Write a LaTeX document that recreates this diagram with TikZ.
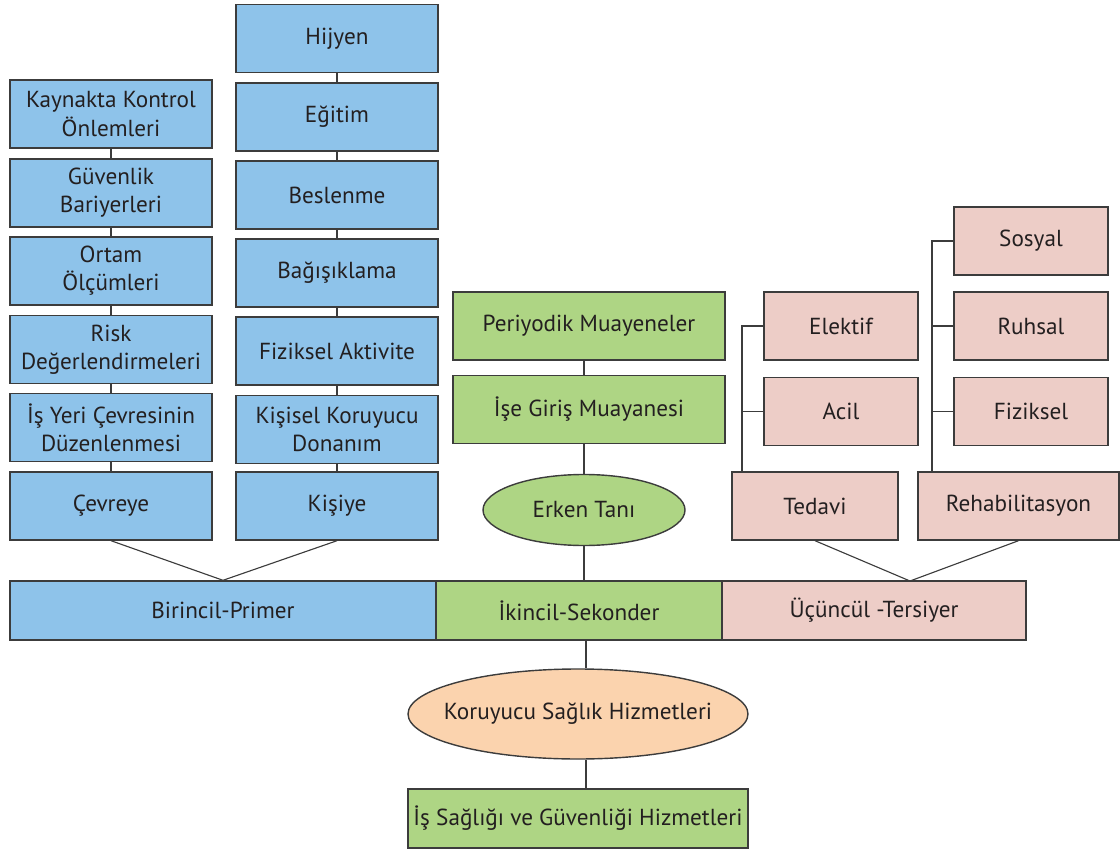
\documentclass[tikz,border=0pt]{standalone}
\usepackage{fontspec}
\setmainfont{PT Sans}
\usetikzlibrary{shapes.geometric}

\definecolor{mavikutu}{RGB}{142,195,234}
\definecolor{yesilkutu}{RGB}{174,213,132}
\definecolor{pembekutu}{RGB}{237,205,199}
\definecolor{turuncu}{RGB}{251,211,174}
\definecolor{cizgi}{RGB}{60,60,60}
\definecolor{yazi}{RGB}{35,31,32}

\begin{document}
\begin{tikzpicture}[font=\fontsize{16.5}{20}\selectfont, text=yazi]

    % stiller
    \tikzstyle{kutu}=[rectangle, draw=cizgi, line width=1pt, minimum height=1.7cm, align=center, inner sep=0pt]
    \tikzstyle{mavi}=[kutu, fill=mavikutu, minimum width=5.05cm]
    \tikzstyle{yesil}=[kutu, fill=yesilkutu, minimum width=6.8cm]
    \tikzstyle{pembe}=[kutu, fill=pembekutu, minimum width=3.85cm]
    \tikzstyle{bant}=[kutu, minimum height=1.475cm]
    \tikzstyle{elips}=[ellipse, draw=cizgi, line width=1pt, inner sep=0pt]
    \tikzstyle{bag}=[draw=cizgi, line width=0.8pt]

    \useasboundingbox (0,0) rectangle (28,-21.225);

    %======================= BIRINCIL =======================
    % cevreye yonelik
    \node[mavi] (kaynak)  at (2.775,-2.85)    {Kaynakta Kontrol\\Önlemleri};
    \node[mavi] (bariyer) at (2.775,-4.825)   {Güvenlik\\Bariyerleri};
    \node[mavi] (ortam)   at (2.775,-6.775)   {Ortam\\Ölçümleri};
    \node[mavi] (risk)    at (2.775,-8.7375)  {Risk\\Değerlendirmeleri};
    \node[mavi] (isyeri)  at (2.775,-10.6875) {İş Yeri Çevresinin\\Düzenlenmesi};
    \node[mavi] (cevreye) at (2.775,-12.65)   {Çevreye};

    % kisiye yonelik
    \node[mavi] (hijyen)  at (8.425,-0.9625)  {Hijyen};
    \node[mavi] (egitim)  at (8.425,-2.925)   {Eğitim};
    \node[mavi] (beslen)  at (8.425,-4.875)   {Beslenme};
    \node[mavi] (asi)     at (8.425,-6.825)   {Bağışıklama};
    \node[mavi] (aktif)   at (8.425,-8.775)   {Fiziksel Aktivite};
    \node[mavi] (kkd)     at (8.425,-10.7375) {Kişisel Koruyucu\\Donanım};
    \node[mavi] (kisiye)  at (8.425,-12.65)   {Kişiye};

    \draw[bag] (kaynak) -- (bariyer);
    \draw[bag] (bariyer) -- (ortam);
    \draw[bag] (ortam) -- (risk);
    \draw[bag] (risk) -- (isyeri);
    \draw[bag] (isyeri) -- (cevreye);

    \draw[bag] (hijyen) -- (egitim);
    \draw[bag] (egitim) -- (beslen);
    \draw[bag] (beslen) -- (asi);
    \draw[bag] (asi) -- (aktif);
    \draw[bag] (aktif) -- (kkd);
    \draw[bag] (kkd) -- (kisiye);

    %======================= IKINCIL =======================
    \node[yesil] (periyodik) at (14.725,-8.15)   {Periyodik Muayeneler};
    \node[yesil] (isegiris)  at (14.725,-10.2375) {İşe Giriş Muayanesi};
    \node[elips, fill=yesilkutu, minimum width=5.05cm, minimum height=1.775cm] (erken) at (14.6,-12.75) {Erken Tanı};

    \draw[bag] (periyodik.south -| erken.north) -- (isegiris.north -| erken.north);
    \draw[bag] (isegiris.south -| erken.north) -- (erken.north);

    %======================= UCUNCUL =======================
    \node[pembe, minimum width=4.15cm]  (tedavi) at (20.375,-12.65)  {Tedavi};
    \node[pembe, minimum width=5.025cm] (rehab)  at (25.4625,-12.65) {Rehabilitasyon};

    \node[pembe] (elektif)  at (21.025,-8.15)  {Elektif};
    \node[pembe] (acil)     at (21.025,-10.29) {Acil};
    \node[pembe] (sosyal)   at (25.775,-6.025) {Sosyal};
    \node[pembe] (ruhsal)   at (25.775,-8.15)  {Ruhsal};
    \node[pembe] (fiziksel) at (25.775,-10.29) {Fiziksel};

    % tedavi ve rehabilitasyon kollari
    \coordinate (tkol) at (18.55,-11.8);
    \coordinate (rkol) at (23.3,-11.8);
    \draw[bag] (tkol) |- (elektif.west);
    \draw[bag] (tkol |- acil.west) -- (acil.west);
    \draw[bag] (rkol) |- (sosyal.west);
    \draw[bag] (rkol |- ruhsal.west) -- (ruhsal.west);
    \draw[bag] (rkol |- fiziksel.west) -- (fiziksel.west);

    %======================= ANA BANT =======================
    \node[bant, fill=mavikutu, minimum width=10.65cm] (birincil) at (5.575,-15.2625) {Birincil-Primer};
    \node[bant, fill=yesilkutu, minimum width=7.15cm] (ikincil)  at (14.475,-15.2625) {İkincil-Sekonder};
    \node[bant, fill=pembekutu, minimum width=7.6cm]  (ucuncul)  at (21.85,-15.2625)  {Üçüncül -Tersiyer};

    \coordinate (ucbas) at (22.75,-14.525);

    \draw[bag] (cevreye.south) -- (birincil.north);
    \draw[bag] (kisiye.south) -- (birincil.north);
    \draw[bag] (erken.south) -- (erken.south |- ikincil.north);
    \draw[bag] (tedavi.south) -- (ucbas);
    \draw[bag] (rehab.south) -- (ucbas);

    %======================= ALT =======================
    \node[elips, fill=turuncu, inner xsep=-0.45cm, minimum width=8.5cm, minimum height=2.25cm] (koruyucu) at (14.45,-17.85) {Koruyucu Sağlık Hizmetleri};
    \node[bant, fill=yesilkutu, minimum width=8.5cm] (isg) at (14.45,-20.4625) {İş Sağlığı ve Güvenliği Hizmetleri};

    \coordinate (orta) at (14.65,-16);
    \draw[bag] (orta |- ikincil.south) -- (orta |- koruyucu.north);
    \draw[bag] (orta |- koruyucu.south) -- (orta |- isg.north);

\end{tikzpicture}
\end{document}
